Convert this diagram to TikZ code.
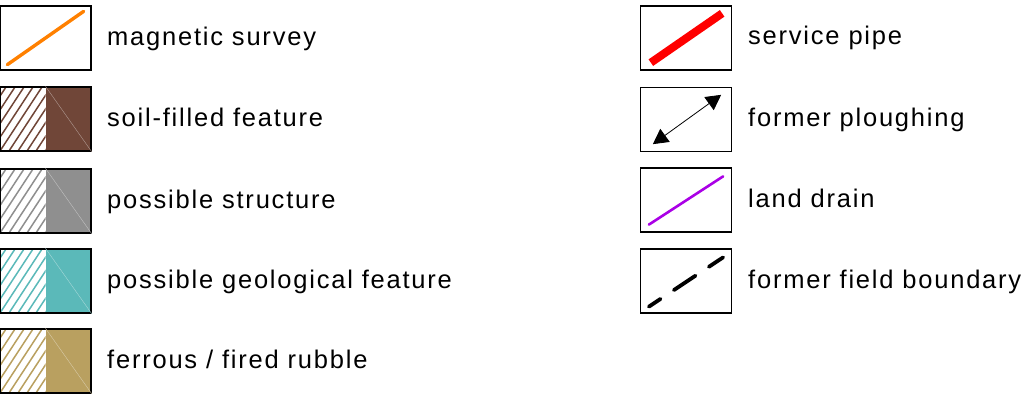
\documentclass[tikz,border=0pt]{standalone}
\usepackage{fontspec}
\setmainfont{Liberation Sans}[LetterSpace=7]
\usepackage{xcolor}
\usetikzlibrary{arrows.meta,calc}

\definecolor{soilbrown}{RGB}{112,70,56}
\definecolor{structgrey}{RGB}{143,143,143}
\definecolor{geoteal}{RGB}{91,185,185}
\definecolor{rubblekhaki}{RGB}{185,160,96}
\definecolor{magorange}{RGB}{255,128,0}
\definecolor{drainpurple}{RGB}{170,0,230}

\tikzset{
	keybox/.style={draw=black, line width=1.3pt, minimum width=91pt, minimum height=64pt, inner sep=0pt},
	keytext/.style={anchor=base west, inner sep=0pt, font=\fontsize{25.5}{28}\selectfont},
}

\begin{document}
\begin{tikzpicture}[x=1pt,y=-1pt]
		\useasboundingbox (0,0) rectangle (1025,412);
		
		% left column: fills
		\foreach \name/\col/\y/\txt in {soil/soilbrown/119/{soil-filled feature},
			struct/structgrey/201/{possible structure},
			geo/geoteal/281/{possible geological feature},
			rubble/rubblekhaki/361/{ferrous / fired rubble}}{
			\begin{scope}
				\clip (0.5,\y-32) rectangle (45.5,\y+32);
				\foreach \i in {-6,...,6}
					\draw[\col, line width=1.5pt] (\i*9,\y+32) -- ++(42,-64);
			\end{scope}
			\fill[\col] (45.5,\y-32) rectangle (91,\y+32);
			\node[keybox] (\name) at (45.5,\y) {};
			\draw[\col!55!white, line width=0.4pt] (\name.north) -- (\name.south east);
			\node[keytext] (\name-txt) at (107,\y+7) {\txt};
		}
		
		% magnetic survey
		\node[keybox] (mag) at (45.5,38) {};
		\node[keytext] (mag-txt) at (107,46) {magnetic survey};
		\draw[magorange, line width=3.4pt, line cap=round] ($(mag.south west)+(8,-6)$) -- ($(mag.north east)+(-8,6)$);
		
		% right column
		\node[keybox] (pipe) at (686,38) {};
		\node[keytext] (pipe-txt) at (748,45) {service pipe};
		\draw[red, line width=8pt] ($(pipe.south west)+(11,-8)$) -- ($(pipe.north east)+(-10,8)$);
		
		\node[keybox] (plough) at (686,119.5) {};
		\node[keytext] (plough-txt) at (748,126.5) {former ploughing};
		\draw[{Triangle[length=15pt,width=16pt]}-{Triangle[length=15pt,width=16pt]}, line width=0.8pt]
			($(plough.south west)+(13,-8)$) -- ($(plough.north east)+(-11,8)$);
		
		\node[keybox] (drain) at (686,200) {};
		\node[keytext] (drain-txt) at (748,207) {land drain};
		\draw[drainpurple, line width=2.6pt, line cap=round] ($(drain.south west)+(9,-8)$) -- ($(drain.north east)+(-9,9)$);
		
		\node[keybox] (field) at (686,281) {};
		\node[keytext] (field-txt) at (748,288) {former field boundary};
		\draw[black, line width=3.8pt, line cap=round, dash pattern=on 26pt off 16pt, dash phase=12pt]
			($(field.south west)+(9,-7)$) -- ($(field.north east)+(-9,9)$);
	\end{tikzpicture}
\end{document}
